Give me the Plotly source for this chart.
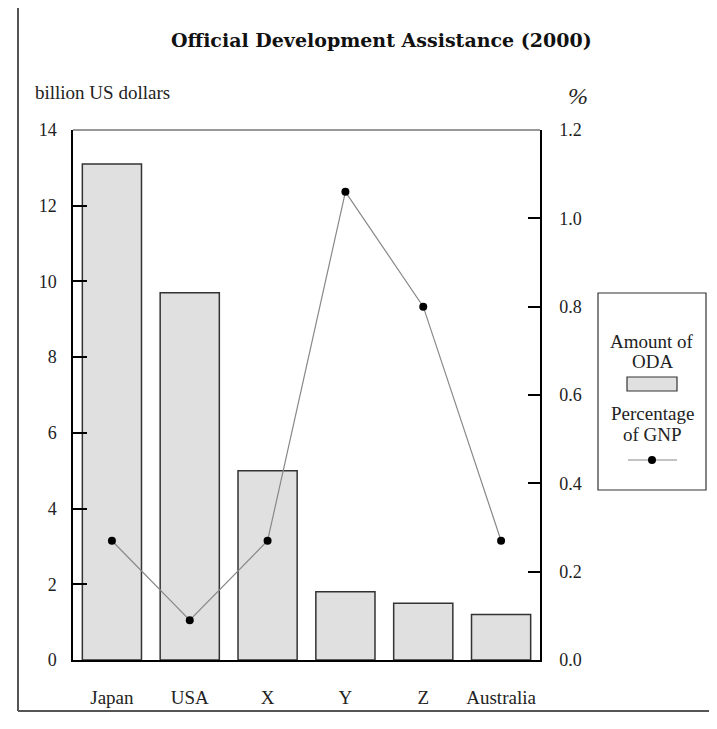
import plotly.graph_objects as go

categories = ["Japan", "USA", "X", "Y", "Z", "Australia"]
oda_billion_usd = [13.1, 9.7, 5.0, 1.8, 1.5, 1.2]
pct_of_gnp = [0.27, 0.09, 0.27, 1.06, 0.80, 0.27]
left_ticks = [0, 2, 4, 6, 8, 10, 12, 14]
right_ticks = [0.0, 0.2, 0.4, 0.6, 0.8, 1.0, 1.2]
right_tick_labels = ["0.0", "0.2", "0.4", "0.6", "0.8", "1.0", "1.2"]

W, H = 717, 729
OFF = 8  # page body margin
L, T = 73 - OFF, 130 - OFF
R, B = W - (540 - OFF), H - (660 - OFF)
PW, PH = W - L - R, H - T - B

def px(x):
    return (x - OFF - L) / PW

def py(y):
    return (H - B - (y - OFF)) / PH

SERIF = "Liberation Serif"
BOLD = "DejaVu Serif"

fig = go.Figure()
fig.add_trace(go.Bar(
    x=categories, y=oda_billion_usd, width=0.76,
    marker=dict(color="#e0e0e0", line=dict(color="#333333", width=1.5)),
    showlegend=False, yaxis="y",
))
fig.add_trace(go.Scatter(
    x=categories, y=pct_of_gnp, mode="lines+markers",
    line=dict(color="#888888", width=1.2),
    marker=dict(color="black", size=8),
    showlegend=False, yaxis="y2",
))

fig.update_layout(
    width=W, height=H,
    margin=dict(l=L, r=R, t=T, b=B),
    paper_bgcolor="white", plot_bgcolor="white",
    xaxis=dict(
        range=[-0.5, 5.5], showgrid=False, ticks="", showline=True,
        linecolor="black", linewidth=2, zeroline=False,
        tickfont=dict(family=SERIF, size=19, color="#222"),
        ticklabelstandoff=19,
    ),
    yaxis=dict(
        range=[0, 14], tickvals=left_ticks, showgrid=False, zeroline=False,
        ticks="inside", ticklen=14, tickwidth=1.5, tickcolor="black",
        showline=True, linecolor="black", linewidth=1.5,
        tickfont=dict(family=SERIF, size=18, color="#222"),
        ticklabelstandoff=11,
    ),
    yaxis2=dict(
        range=[0, 1.2], tickvals=right_ticks, ticktext=right_tick_labels,
        overlaying="y", side="right", showgrid=False, zeroline=False,
        ticks="inside", ticklen=12, tickwidth=1.5, tickcolor="black",
        showline=True, linecolor="black", linewidth=1.5,
        tickfont=dict(family=SERIF, size=18, color="#222"),
        ticklabelstandoff=14,
    ),
)

shapes = []
shapes.append(dict(type="line", xref="paper", yref="paper", x0=0, x1=1, y0=1, y1=1,
                   line=dict(color="#333", width=1)))
shapes.append(dict(type="line", xref="paper", yref="paper", x0=px(18), x1=px(18),
                   y0=py(0), y1=py(711), line=dict(color="#555", width=2)))
shapes.append(dict(type="line", xref="paper", yref="paper", x0=px(18), x1=px(725),
                   y0=py(711), y1=py(711), line=dict(color="#555", width=2)))
shapes.append(dict(type="rect", xref="paper", yref="paper", x0=px(598), x1=px(706),
                   y0=py(293), y1=py(490), line=dict(color="#333", width=1.2)))
shapes.append(dict(type="rect", xref="paper", yref="paper", x0=px(627), x1=px(677),
                   y0=py(377), y1=py(391), fillcolor="#e0e0e0",
                   line=dict(color="#333", width=1.2)))
shapes.append(dict(type="line", xref="paper", yref="paper", x0=px(628), x1=px(677),
                   y0=py(460), y1=py(460), line=dict(color="#888", width=1.2)))
shapes.append(dict(type="circle", xref="paper", yref="paper", x0=px(648), x1=px(656),
                   y0=py(456), y1=py(464), fillcolor="black", line=dict(color="black", width=0)))
fig.update_layout(shapes=shapes)

ann = [
    dict(text="<b>Official Development Assistance (2000)</b>", x=px(381), y=py(40),
         font=dict(family=BOLD, size=19, color="#111")),
    dict(text="billion US dollars", x=px(33), y=py(92), xanchor="left",
         font=dict(family=SERIF, size=19, color="#222")),
    dict(text="<i>%</i>", x=px(578), y=py(96),
         font=dict(family=SERIF, size=24, color="#222")),
    dict(text="Amount of", x=px(652), y=py(341), font=dict(family=SERIF, size=19, color="#222")),
    dict(text="ODA", x=px(652), y=py(361), font=dict(family=SERIF, size=19, color="#222")),
    dict(text="Percentage", x=px(652), y=py(413), font=dict(family=SERIF, size=19, color="#222")),
    dict(text="of GNP", x=px(652), y=py(434), font=dict(family=SERIF, size=19, color="#222")),
]
for a in ann:
    a.setdefault("xanchor", "center")
    a.update(xref="paper", yref="paper", yanchor="middle", showarrow=False)
fig.update_layout(annotations=ann)

fig.write_html("out.html")
